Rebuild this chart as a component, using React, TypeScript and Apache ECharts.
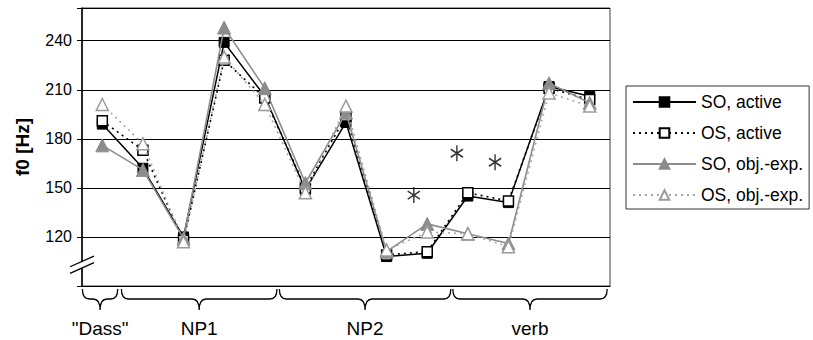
import React, { useEffect, useRef } from 'react';
import * as echarts from 'echarts';

const FONT = '"Liberation Sans", Arial, Helvetica, sans-serif';

// 13 measuring points (syllables) along the utterance
const positions = ['1', '2', '3', '4', '5', '6', '7', '8', '9', '10', '11', '12', '13'];

const soActive = [189, 162, 120, 239, 206, 149, 190, 108, 110, 145, 141, 212, 206];
const osActive = [191, 173, 118, 228, 205, 150, 194, 109, 111, 147, 142, 211, 204];
const soObjExp = [176, 161, 119, 248, 211, 153, 196, 111, 128, 122, 116, 214, 202];
const osObjExp = [201, 177, 117, 230, 201, 147, 200, 112, 123, 122, 114, 208, 200];

const seriesNames = ['SO, active', 'OS, active', 'SO, obj.-exp.', 'OS, obj.-exp.'];
const yTickLabels = [120, 150, 180, 210, 240];
const Y_MIN = 90;
const Y_MAX = 260;
const Y_STEP = 30;

// segment braces below the x axis (in category-index units)
const segmentLabels = ['"Dass"', 'NP1', 'NP2', 'verb'];
const segmentStarts = [-0.49, 0.47, 4.36, 8.63];
const segmentEnds = [0.38, 4.3, 8.58, 12.43];

// significance asterisks
const asteriskX = [7.67, 8.73, 9.67];
const asteriskY = [145.6, 171.2, 165.7];

// axis break marks (Hz)
const breakUpper = 105;
const breakLower = 101;

export default function App() {
  const ref = useRef<HTMLDivElement | null>(null);

  useEffect(() => {
    if (!ref.current) return;
    const chart = echarts.init(ref.current, null, { renderer: 'svg' });

    const option: any = {
      animation: false,
      backgroundColor: '#ffffff',
      textStyle: { fontFamily: FONT },
      grid: {
        left: 82,
        right: 203,
        top: 8,
        bottom: 54,
        show: true,
        borderColor: '#404040',
        borderWidth: 1,
        backgroundColor: 'transparent',
      },
      legend: {
        orient: 'vertical',
        left: 626,
        top: 86,
        data: seriesNames,
        itemWidth: 63,
        itemHeight: 12,
        itemGap: 11,
        padding: [6, 6, 4, 6],
        borderColor: '#333333',
        borderWidth: 1,
        selectedMode: false,
        textStyle: { fontSize: 17.5, fontFamily: FONT, color: '#000', lineHeight: 20 },
      },
      xAxis: [
        {
          type: 'category',
          data: positions,
          boundaryGap: true,
          axisLine: { show: true, onZero: false, lineStyle: { color: '#000', width: 1.2 } },
          axisTick: { show: false },
          axisLabel: { show: false },
          splitLine: { show: false },
        },
        {
          type: 'value',
          min: -0.5,
          max: 12.5,
          show: false,
          axisLine: { onZero: false },
          splitLine: { show: false },
        },
      ],
      yAxis: {
        type: 'value',
        min: Y_MIN,
        max: Y_MAX,
        interval: Y_STEP,
        name: 'f0 [Hz]',
        nameLocation: 'middle',
        nameRotate: 90,
        nameGap: 50,
        nameTextStyle: { fontSize: 19, fontWeight: 'bold', fontFamily: FONT, color: '#000' },
        axisLine: { show: true, onZero: false, lineStyle: { color: '#000', width: 1.5 } },
        axisTick: { show: true, length: 5, lineStyle: { color: '#000' } },
        axisLabel: {
          fontSize: 16,
          fontFamily: FONT,
          color: '#000',
          margin: 10,
          formatter: (v: number) => (yTickLabels.indexOf(v) >= 0 ? String(v) : ''),
        },
        splitLine: { show: true, lineStyle: { color: '#000', width: 1 } },
      },
      series: [
        {
          name: seriesNames[0],
          type: 'line',
          data: soActive,
          symbol: 'rect',
          symbolSize: 10,
          lineStyle: { color: '#000', width: 1.5, type: 'solid' },
          itemStyle: { color: '#000', borderColor: '#000', borderWidth: 1 },
          z: 3,
        },
        {
          name: seriesNames[1],
          type: 'line',
          data: osActive,
          symbol: 'rect',
          symbolSize: 10,
          lineStyle: { color: '#000', width: 1.6, type: [2, 4] },
          itemStyle: { color: '#fff', borderColor: '#000', borderWidth: 1.5 },
          z: 4,
        },
        {
          name: seriesNames[2],
          type: 'line',
          data: soObjExp,
          symbol: 'triangle',
          symbolSize: 13,
          lineStyle: { color: '#8c8c8c', width: 1.6, type: 'solid' },
          itemStyle: { color: '#8c8c8c', borderColor: '#8c8c8c', borderWidth: 1 },
          z: 5,
        },
        {
          name: seriesNames[3],
          type: 'line',
          data: osObjExp,
          symbol: 'triangle',
          symbolSize: 12,
          lineStyle: { color: '#a6a6a6', width: 1.6, type: [2, 4] },
          itemStyle: { color: '#fff', borderColor: '#9a9a9a', borderWidth: 1.5 },
          z: 6,
        },
        {
          name: 'asterisks',
          type: 'scatter',
          xAxisIndex: 1,
          data: asteriskX.map((x, i) => [x, asteriskY[i]]),
          symbol: 'path://M7,0L7,16M0,4L14,12M0,12L14,4',
          symbolKeepAspect: true,
          symbolSize: [14, 16],
          itemStyle: { color: 'transparent', borderColor: '#000', borderWidth: 1.5 },
          silent: true,
          z: 7,
        },
        {
          name: 'segments',
          type: 'custom',
          xAxisIndex: 1,
          clip: false,
          silent: true,
          encode: { x: [0, 1], y: 3 },
          data: segmentStarts.map((s, i) => [s, segmentEnds[i], i, Y_MIN]),
          renderItem: (params: any, api: any) => {
            const s = api.value(0);
            const e = api.value(1);
            const idx = api.value(2);
            const p0 = api.coord([s, Y_MIN]);
            const p1 = api.coord([e, Y_MIN]);
            const x0 = p0[0];
            const x1 = p1[0];
            const y = p0[1];
            const xm = (x0 + x1) / 2;
            const yt = y + 3;
            const ym = y + 13;
            const ytip = y + 24;
            const r = 7;
            const d =
              `M${x0},${yt}Q${x0},${ym} ${x0 + r},${ym}L${xm - r},${ym}` +
              `Q${xm},${ym} ${xm},${ytip}Q${xm},${ym} ${xm + r},${ym}` +
              `L${x1 - r},${ym}Q${x1},${ym} ${x1},${yt}`;
            return {
              type: 'group',
              children: [
                {
                  type: 'path',
                  shape: { pathData: d },
                  style: { fill: 'none', stroke: '#000', lineWidth: 1.3 },
                },
                {
                  type: 'text',
                  x: xm,
                  y: y + 42,
                  style: {
                    text: segmentLabels[idx],
                    fontSize: 19,
                    fontFamily: FONT,
                    fill: '#000',
                    align: 'center',
                    verticalAlign: 'middle',
                  },
                },
              ],
            };
          },
          z: 2,
        },
      ],
    };

    chart.setOption(option);

    // axis break marks on the y axis
    const ax = chart.convertToPixel({ xAxisIndex: 1 }, -0.5) as number;
    const ya = chart.convertToPixel({ yAxisIndex: 0 }, breakUpper) as number;
    const yb = chart.convertToPixel({ yAxisIndex: 0 }, breakLower) as number;
    const hw = 12;
    const dy = 5.3;
    chart.setOption({
      graphic: [
        {
          type: 'polygon',
          shape: {
            points: [
              [ax - hw, ya + dy],
              [ax + hw, ya - dy],
              [ax + hw, yb - dy],
              [ax - hw, yb + dy],
            ],
          },
          style: { fill: '#fff', stroke: 'none' },
          z: 100,
        },
        {
          type: 'line',
          shape: { x1: ax - hw, y1: ya + dy, x2: ax + hw, y2: ya - dy },
          style: { stroke: '#000', lineWidth: 1.3 },
          z: 101,
        },
        {
          type: 'line',
          shape: { x1: ax - hw, y1: yb + dy, x2: ax + hw, y2: yb - dy },
          style: { stroke: '#000', lineWidth: 1.3 },
          z: 101,
        },
      ],
    });

    return () => {
      chart.dispose();
    };
  }, []);

  return (
    <div
      ref={ref}
      style={{ position: 'absolute', left: 0, top: 0, width: 813, height: 340, background: '#fff' }}
    />
  );
}
